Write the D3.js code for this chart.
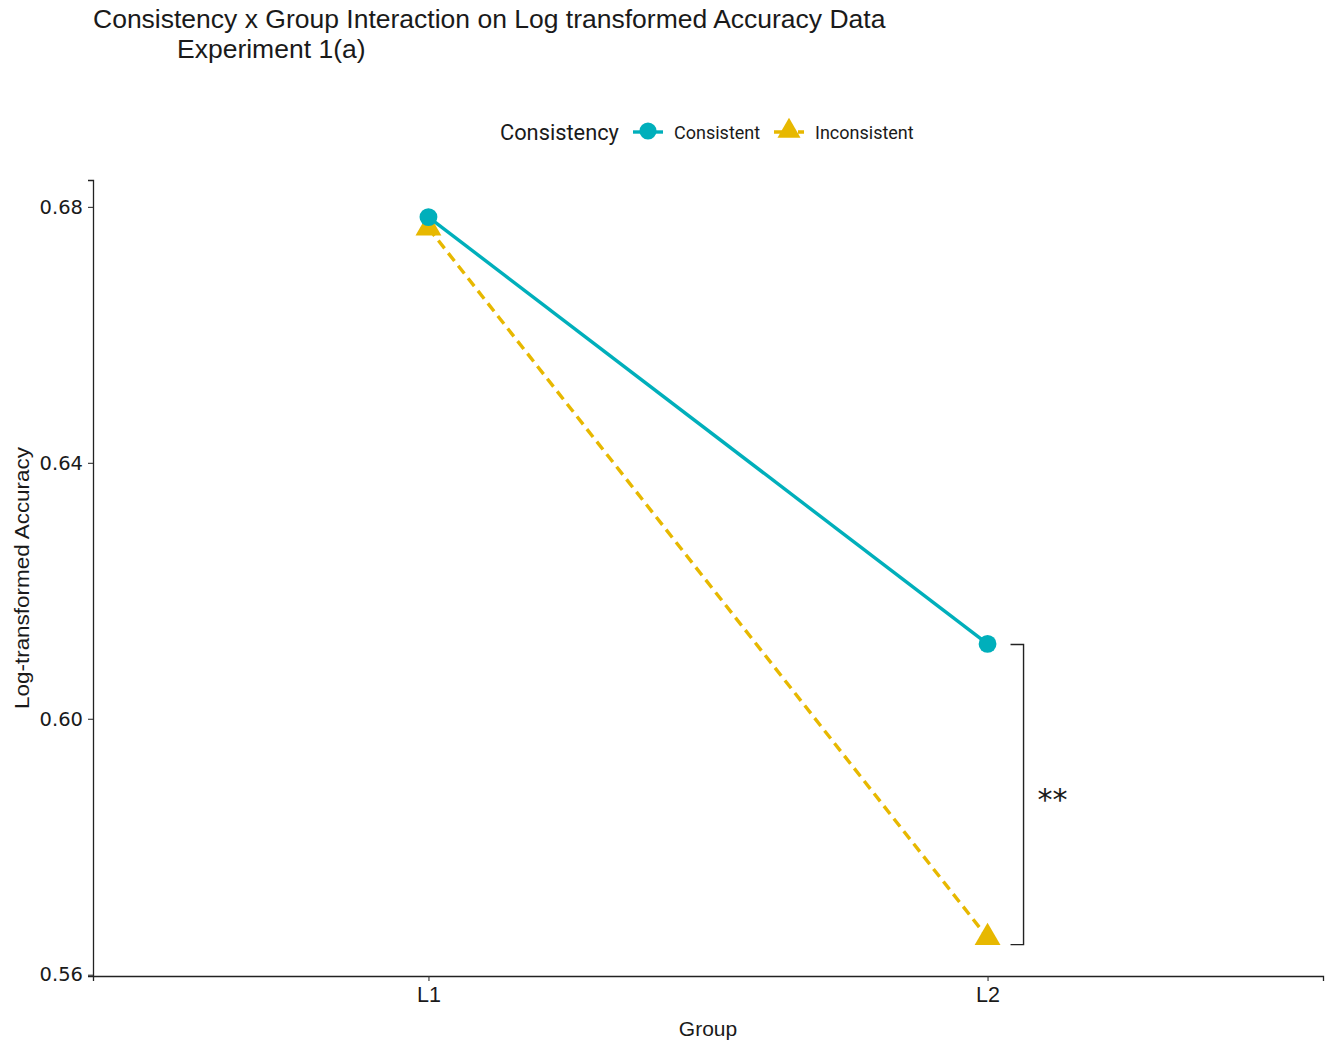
<!DOCTYPE html>
<html>
<head>
<meta charset="utf-8">
<script src="https://cdn.jsdelivr.net/npm/d3@7"></script>
<style>
  body { margin: 0; background: #fff; }
  text { fill: #1a1a1a; }
</style>
</head>
<body>
<div id="chart"></div>
<script>
/////////////////////////////////////
///      DATA
/////////////////////////////////////
var groups = ["L1", "L2"];
var seriesNames = ["Consistent", "Inconsistent"];
var consistentValues = [0.6784, 0.6117];
var inconsistentValues = [0.6767, 0.5658];
var yTicks = [0.56, 0.60, 0.64, 0.68];
var bracketRange = [0.6116, 0.5647];
var bracketLabel = "**";

var colors = {Consistent: "#00AFBB", Inconsistent: "#E7B800"};

var W = 1330, H = 1043;
var svg = d3.select("#chart").append("svg")
  .attr("width", W)
  .attr("height", H);

var x = d3.scalePoint().domain(groups).range([93, 1323]).padding(0.6);
var y = d3.scaleLinear().domain([0.5598, 0.6842]).range([976, 180]);

var sans = "'Liberation Sans', Arial, sans-serif";

// title
svg.append("text")
  .attr("x", 93).attr("y", 28)
  .style("font-family", sans)
  .style("font-size", "26.5px")
  .text("Consistency x Group Interaction on Log transformed Accuracy Data");
svg.append("text")
  .attr("x", 177).attr("y", 58)
  .style("font-family", sans)
  .style("font-size", "26.5px")
  .text("Experiment 1(a)");

// axes
var yAxis = svg.append("g")
  .attr("transform", "translate(93,0)")
  .call(d3.axisLeft(y).tickValues(yTicks).tickFormat(d3.format(".2f")).tickSize(5).tickPadding(5));
var xAxis = svg.append("g")
  .attr("transform", "translate(0,976)")
  .call(d3.axisBottom(x).tickSize(5).tickPadding(6));

[yAxis, xAxis].forEach(function(ax){
  ax.select(".domain").attr("stroke", "#222").attr("stroke-width", 1.3);
  ax.selectAll(".tick line").attr("stroke", "#333").attr("stroke-width", 1.1);
});
yAxis.selectAll(".tick text")
  .style("font-family", "'DejaVu Sans', Verdana, sans-serif")
  .style("font-size", "19.5px").attr("fill", "#333");
xAxis.selectAll(".tick text")
  .style("font-family", sans)
  .style("font-size", "21.5px").attr("fill", "#333");

// axis titles
svg.append("text")
  .attr("transform", "translate(29," + ((y.range()[0] + y.range()[1]) / 2) + ") rotate(-90)")
  .attr("text-anchor", "middle")
  .style("font-family", sans)
  .style("font-size", "20px")
  .attr("textLength", 262)
  .attr("lengthAdjust", "spacingAndGlyphs")
  .text("Log-transformed Accuracy");
svg.append("text")
  .attr("x", (x.range()[0] + x.range()[1]) / 2).attr("y", 1036)
  .attr("text-anchor", "middle")
  .style("font-family", sans)
  .style("font-size", "21px")
  .text("Group");

// lines + points
var series = [
  {name: "Consistent", values: consistentValues, dash: null, shape: d3.symbolCircle},
  {name: "Inconsistent", values: inconsistentValues, dash: "10,6", shape: d3.symbolTriangle}
];

var line = d3.line()
  .x(function(d){ return x(d.g); })
  .y(function(d){ return y(d.v); });

series.forEach(function(s){
  var pts = groups.map(function(g, i){ return {g: g, v: s.values[i]}; });
  svg.append("path")
    .datum(pts)
    .attr("d", line)
    .attr("fill", "none")
    .attr("stroke", colors[s.name])
    .attr("stroke-width", 3.4)
    .attr("stroke-dasharray", s.dash);
});
// inconsistent points first so the consistent circle sits on top at L1
series.slice().reverse().forEach(function(s){
  groups.forEach(function(g, i){
    svg.append("path")
      .attr("d", d3.symbol().type(s.shape).size(s.name === "Consistent" ? 250 : 290)())
      .attr("transform", "translate(" + x(g) + "," + y(s.values[i]) + ")")
      .attr("fill", colors[s.name]);
  });
});

// significance bracket
var bx = x("L2") + 36;
svg.append("path")
  .attr("d", "M" + (bx - 13) + "," + y(bracketRange[0]) + "H" + bx +
             "V" + y(bracketRange[1]) + "H" + (bx - 13))
  .attr("fill", "none")
  .attr("stroke", "#222")
  .attr("stroke-width", 1.4);
svg.append("text")
  .attr("x", bx + 29).attr("y", (y(bracketRange[0]) + y(bracketRange[1])) / 2 + 15)
  .attr("text-anchor", "middle")
  .style("font-family", "'DejaVu Sans', sans-serif")
  .style("font-size", "30px")
  .attr("fill", "#333")
  .text(bracketLabel);

// legend
var leg = svg.append("g");
leg.append("text")
  .attr("x", 500).attr("y", 140)
  .style("font-family", "Roboto, 'Liberation Sans', sans-serif")
  .style("font-size", "21.8px")
  .attr("fill", "#333")
  .text("Consistency");
var legItems = [{name: "Consistent", x: 648, shape: d3.symbolCircle, lx: 674},
                {name: "Inconsistent", x: 789, shape: d3.symbolTriangle, lx: 815}];
legItems.forEach(function(it){
  var s = series.filter(function(d){ return d.name === it.name; })[0];
  leg.append("line")
    .attr("x1", it.x - 15).attr("x2", it.x + 15)
    .attr("y1", 132).attr("y2", 132)
    .attr("stroke", colors[it.name])
    .attr("stroke-width", 3.4)
    .attr("stroke-dasharray", s.dash ? "8,4" : null);
  leg.append("path")
    .attr("d", d3.symbol().type(it.shape).size(230)())
    .attr("transform", "translate(" + it.x + "," + 131 + ")")
    .attr("fill", colors[it.name]);
  leg.append("text")
    .attr("x", it.lx).attr("y", 139)
    .style("font-family", "Roboto, 'Liberation Sans', sans-serif")
    .style("font-size", "18px")
    .attr("fill", "#333")
    .text(it.name);
});
</script>
</body>
</html>
